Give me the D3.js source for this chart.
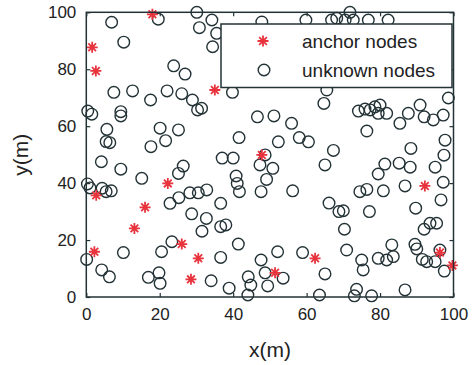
<!DOCTYPE html>
<html>
<head>
<meta charset="utf-8">
<script src="https://cdn.jsdelivr.net/npm/d3@7"></script>
<style>
  body { margin: 0; background: #fff; }
  text { font-family: "Liberation Sans", Arial, sans-serif; fill: #222; }
</style>
</head>
<body>
<div id="chart"></div>
<script>
// anchor nodes (red stars)
const anchorX = [1.6, 2.6, 18.0, 35.0, 47.8, 22.2, 2.7, 16.0, 13.1, 26.0, 2.2, 30.5, 28.5, 51.4, 62.3, 92.2, 96.3, 99.7];
const anchorY = [87.7, 79.4, 99.3, 72.7, 49.9, 39.9, 35.7, 31.5, 24.1, 18.6, 15.9, 13.6, 6.2, 8.5, 13.6, 39.0, 15.6, 11.1];

// unknown nodes (black circles)
const unknownX = [6.9, 19.6, 30.1, 30.8, 34.2, 35.5, 34.4, 10.2, 23.8, 26.9, 7.5, 12.6, 17.5, 22.0, 26.0, 28.9, 30.3,
  0.4, 1.5, 9.4, 9.4, 5.6, 5.4, 6.4, 20.1, 25.1, 21.6, 17.6, 47.8, 59.8, 66.8, 39.8, 31.4, 46.6, 51.1, 55.9, 64.7,
  65.5, 41.6, 52.3, 58.0, 60.5, 67.3, 37.0, 40.0, 48.7, 71.8, 68.2, 70.5, 72.7, 76.8, 82.2, 74.1, 75.9, 77.3, 78.6,
  80.0, 79.5, 81.8, 76.4, 85.4, 87.7, 90.9, 92.0, 94.5, 97.2, 98.6, 97.7, 88.4, 97.4, 4.1, 9.4, 15.1, 26.4, 25.1,
  0.3, 1.0, 4.3, 6.8, 5.4, 22.8, 25.2, 28.2, 30.5, 32.8, 28.7, 32.7, 31.5, 23.3, 20.5, 10.1, 0.1, 4.2, 6.3, 16.9,
  19.8, 20.1, 34.0, 47.3, 50.8, 49.1, 40.8, 41.1, 41.7, 47.6, 56.2, 65.0, 36.6, 36.6, 38.0, 66.1, 41.4, 36.6, 52.1,
  47.6, 58.9, 65.0, 48.7, 53.6, 44.1, 44.8, 38.9, 49.4, 44.0, 63.5, 81.3, 85.2, 88.2, 79.5, 95.0, 97.2, 96.6, 86.8,
  80.9, 74.5, 76.4, 68.8, 70.0, 77.1, 89.7, 92.0, 93.6, 95.4, 70.3, 70.9, 83.2, 83.6, 81.8, 79.5, 75.0, 75.4, 89.5,
  90.0, 91.5, 92.7, 95.0, 97.5, 73.6, 73.0, 77.7, 86.8, 96.3];
const unknownY = [96.5, 97.6, 100, 94.6, 97.3, 92.6, 87.9, 89.5, 81.2, 78.3, 71.9, 72.4, 69.2, 72.4, 71.4, 69.2, 65.7,
  65.3, 64.2, 65.1, 63.6, 58.9, 54.6, 54.2, 59.3, 58.7, 54.9, 52.8, 96.6, 97.3, 97.3, 71.9, 66.3, 63.3, 63.6, 61.0, 68.0,
  72.7, 56.0, 54.5, 56.0, 54.5, 51.5, 48.8, 48.8, 49.9, 100, 97.9, 97.3, 97.3, 97.3, 97.3, 65.3, 66.0, 65.7, 66.8,
  67.4, 64.5, 64.5, 58.3, 61.0, 64.5, 67.4, 63.3, 62.2, 63.9, 69.9, 55.1, 52.2, 49.8, 47.5, 44.9, 41.7, 46.0, 43.4,
  39.7, 38.3, 38.2, 37.3, 37.0, 32.9, 34.9, 36.6, 36.6, 37.6, 29.2, 27.6, 23.1, 19.4, 15.9, 15.6, 13.2, 9.5, 7.1, 6.9,
  8.5, 4.8, 5.7, 46.4, 45.2, 41.3, 42.5, 39.9, 37.0, 37.0, 37.3, 46.4, 32.9, 24.7, 25.3, 33.0, 18.6, 13.9, 15.9,
  13.0, 15.6, 8.1, 8.5, 6.6, 7.1, 4.2, 3.1, 3.9, 0.7, 0.7, 46.7, 47.0, 45.6, 43.2, 45.6, 40.3, 34.1, 39.0,
  37.3, 37.0, 37.8, 30.0, 30.3, 30.0, 31.2, 23.8, 25.9, 25.9, 23.8, 16.5, 18.3, 14.2, 13.0, 13.6, 13.0, 9.5, 18.5,
  16.9, 13.2, 12.4, 12.4, 9.1, 2.7, 0.4, 0.4, 2.5, 16.5];

const ticks = [0, 20, 40, 60, 80, 100];

const width = 474, height = 365;
const margin = { top: 12.3, right: 20.5, bottom: 68, left: 86.3 };
const w = width - margin.left - margin.right;
const h = height - margin.top - margin.bottom;
const ink = "#233236";
const red = "#e8333d";

const svg = d3.select("#chart").append("svg")
  .attr("width", width)
  .attr("height", height);

const g = svg.append("g").attr("transform", `translate(${margin.left},${margin.top})`);

const x = d3.scaleLinear().domain([0, 100]).range([0, w]);
const y = d3.scaleLinear().domain([0, 100]).range([h, 0]);

// star marker like matlab '*'
function star(s) {
  const d = s * 0.7;
  return `M${-s},0L${s},0M0,${-s}L0,${s}M${-d},${-d}L${d},${d}M${-d},${d}L${d},${-d}`;
}

const unknown = unknownX.map((v, i) => ({ x: v, y: unknownY[i] }));
const anchors = anchorX.map((v, i) => ({ x: v, y: anchorY[i] }));

g.selectAll(".unk").data(unknown).enter().append("circle")
  .attr("class", "unk")
  .attr("cx", d => x(d.x))
  .attr("cy", d => y(d.y))
  .attr("r", 5.8)
  .attr("fill", "none")
  .attr("stroke", ink)
  .attr("stroke-width", 1.4);

g.selectAll(".anc").data(anchors).enter().append("path")
  .attr("class", "anc")
  .attr("transform", d => `translate(${x(d.x)},${y(d.y)})`)
  .attr("d", star(5.5))
  .attr("stroke", red)
  .attr("stroke-width", 1.8)
  .attr("fill", "none");

// axes, ticks pointing inward
function styleAxis(sel) {
  sel.select(".domain").remove();
  sel.selectAll(".tick line").attr("stroke", ink).attr("stroke-width", 1.2);
  sel.selectAll(".tick text").style("font-size", "17px").attr("fill", "#222");
}

g.append("g").attr("transform", `translate(0,${h})`)
  .call(d3.axisBottom(x).tickValues(ticks).tickSizeInner(-4).tickSizeOuter(0).tickPadding(11))
  .call(styleAxis);
g.append("g")
  .call(d3.axisLeft(y).tickValues(ticks).tickSizeInner(-4).tickSizeOuter(0).tickPadding(10))
  .call(styleAxis);
g.append("g")
  .call(d3.axisTop(x).tickValues(ticks).tickSizeInner(-4).tickSizeOuter(0).tickFormat(""))
  .call(styleAxis);
g.append("g").attr("transform", `translate(${w},0)`)
  .call(d3.axisRight(y).tickValues(ticks).tickSizeInner(-4).tickSizeOuter(0).tickFormat(""))
  .call(styleAxis);

g.append("rect")
  .attr("width", w).attr("height", h)
  .attr("fill", "none").attr("stroke", ink).attr("stroke-width", 1.5);

// legend
const lg = svg.append("g").attr("transform", "translate(221,24)");
lg.append("rect")
  .attr("width", 231).attr("height", 63.5)
  .attr("fill", "#fff").attr("stroke", ink).attr("stroke-width", 1.5);
lg.append("path")
  .attr("transform", "translate(42,17)")
  .attr("d", star(5.5))
  .attr("stroke", red).attr("stroke-width", 1.8).attr("fill", "none");
lg.append("circle")
  .attr("cx", 43).attr("cy", 46).attr("r", 5.8)
  .attr("fill", "none").attr("stroke", ink).attr("stroke-width", 1.4);
lg.append("text").attr("x", 81).attr("y", 17).attr("dy", "0.35em")
  .style("font-size", "19px").text("anchor nodes");
lg.append("text").attr("x", 81).attr("y", 46).attr("dy", "0.35em")
  .style("font-size", "19px").text("unknown nodes");

// axis titles
svg.append("text")
  .attr("x", margin.left + w / 2).attr("y", 357)
  .attr("text-anchor", "middle")
  .style("font-size", "21px")
  .text("x(m)");
svg.append("text")
  .attr("transform", `translate(28,${margin.top + h / 2}) rotate(-90)`)
  .attr("text-anchor", "middle")
  .style("font-size", "21px")
  .text("y(m)");
</script>
</body>
</html>
